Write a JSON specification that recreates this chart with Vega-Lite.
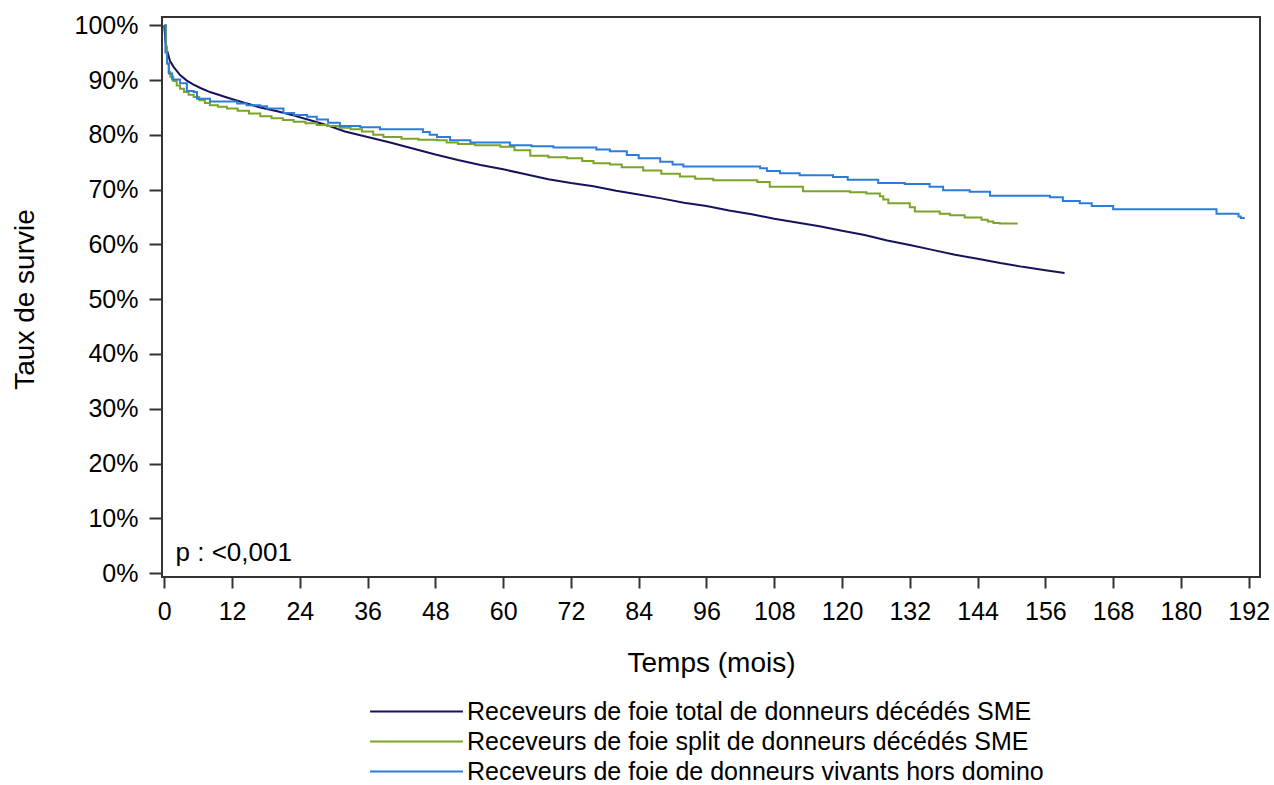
{
  "$schema": "https://vega.github.io/schema/vega-lite/v6.json",
  "autosize": "none",
  "width": 1098,
  "height": 560,
  "padding": {"left": 162, "top": 17, "right": 14, "bottom": 208},
  "background": "white",
  "config": {
    "view": {"stroke": "#333333", "strokeWidth": 2},
    "font": "Liberation Sans"
  },
  "datasets": {
    "km": [
      {"g": "Receveurs de foie total de donneurs décédés SME", "t": 0, "s": 1.0},
      {"g": "Receveurs de foie total de donneurs décédés SME", "t": 0.2, "s": 0.972},
      {"g": "Receveurs de foie total de donneurs décédés SME", "t": 0.5, "s": 0.954},
      {"g": "Receveurs de foie total de donneurs décédés SME", "t": 1, "s": 0.935},
      {"g": "Receveurs de foie total de donneurs décédés SME", "t": 1.65, "s": 0.924},
      {"g": "Receveurs de foie total de donneurs décédés SME", "t": 2.8, "s": 0.909},
      {"g": "Receveurs de foie total de donneurs décédés SME", "t": 4, "s": 0.899},
      {"g": "Receveurs de foie total de donneurs décédés SME", "t": 5.1, "s": 0.892},
      {"g": "Receveurs de foie total de donneurs décédés SME", "t": 6.5, "s": 0.885},
      {"g": "Receveurs de foie total de donneurs décédés SME", "t": 8.1, "s": 0.878},
      {"g": "Receveurs de foie total de donneurs décédés SME", "t": 11.1, "s": 0.868},
      {"g": "Receveurs de foie total de donneurs décédés SME", "t": 14, "s": 0.859},
      {"g": "Receveurs de foie total de donneurs décédés SME", "t": 17, "s": 0.850},
      {"g": "Receveurs de foie total de donneurs décédés SME", "t": 20, "s": 0.843},
      {"g": "Receveurs de foie total de donneurs décédés SME", "t": 23, "s": 0.835},
      {"g": "Receveurs de foie total de donneurs décédés SME", "t": 26, "s": 0.826},
      {"g": "Receveurs de foie total de donneurs décédés SME", "t": 29, "s": 0.817},
      {"g": "Receveurs de foie total de donneurs décédés SME", "t": 32, "s": 0.806},
      {"g": "Receveurs de foie total de donneurs décédés SME", "t": 36, "s": 0.796},
      {"g": "Receveurs de foie total de donneurs décédés SME", "t": 40, "s": 0.786},
      {"g": "Receveurs de foie total de donneurs décédés SME", "t": 44, "s": 0.775},
      {"g": "Receveurs de foie total de donneurs décédés SME", "t": 48, "s": 0.764},
      {"g": "Receveurs de foie total de donneurs décédés SME", "t": 52, "s": 0.754},
      {"g": "Receveurs de foie total de donneurs décédés SME", "t": 56, "s": 0.745},
      {"g": "Receveurs de foie total de donneurs décédés SME", "t": 60, "s": 0.737},
      {"g": "Receveurs de foie total de donneurs décédés SME", "t": 64, "s": 0.728},
      {"g": "Receveurs de foie total de donneurs décédés SME", "t": 68, "s": 0.719},
      {"g": "Receveurs de foie total de donneurs décédés SME", "t": 72, "s": 0.712},
      {"g": "Receveurs de foie total de donneurs décédés SME", "t": 76, "s": 0.706},
      {"g": "Receveurs de foie total de donneurs décédés SME", "t": 80, "s": 0.698},
      {"g": "Receveurs de foie total de donneurs décédés SME", "t": 84, "s": 0.691},
      {"g": "Receveurs de foie total de donneurs décédés SME", "t": 88, "s": 0.684},
      {"g": "Receveurs de foie total de donneurs décédés SME", "t": 92, "s": 0.676},
      {"g": "Receveurs de foie total de donneurs décédés SME", "t": 96, "s": 0.670},
      {"g": "Receveurs de foie total de donneurs décédés SME", "t": 100, "s": 0.662},
      {"g": "Receveurs de foie total de donneurs décédés SME", "t": 104, "s": 0.655},
      {"g": "Receveurs de foie total de donneurs décédés SME", "t": 108, "s": 0.647},
      {"g": "Receveurs de foie total de donneurs décédés SME", "t": 112, "s": 0.640},
      {"g": "Receveurs de foie total de donneurs décédés SME", "t": 116, "s": 0.633},
      {"g": "Receveurs de foie total de donneurs décédés SME", "t": 120, "s": 0.625},
      {"g": "Receveurs de foie total de donneurs décédés SME", "t": 124, "s": 0.617},
      {"g": "Receveurs de foie total de donneurs décédés SME", "t": 128, "s": 0.607},
      {"g": "Receveurs de foie total de donneurs décédés SME", "t": 132, "s": 0.599},
      {"g": "Receveurs de foie total de donneurs décédés SME", "t": 136, "s": 0.590},
      {"g": "Receveurs de foie total de donneurs décédés SME", "t": 140, "s": 0.581},
      {"g": "Receveurs de foie total de donneurs décédés SME", "t": 144, "s": 0.574},
      {"g": "Receveurs de foie total de donneurs décédés SME", "t": 148, "s": 0.566},
      {"g": "Receveurs de foie total de donneurs décédés SME", "t": 152, "s": 0.559},
      {"g": "Receveurs de foie total de donneurs décédés SME", "t": 156, "s": 0.553},
      {"g": "Receveurs de foie total de donneurs décédés SME", "t": 159.4, "s": 0.548},

      {"g": "Receveurs de foie split de donneurs décédés SME", "t": 0, "s": 1.0},
      {"g": "Receveurs de foie split de donneurs décédés SME", "t": 0.3, "s": 0.96},
      {"g": "Receveurs de foie split de donneurs décédés SME", "t": 0.5, "s": 0.93},
      {"g": "Receveurs de foie split de donneurs décédés SME", "t": 0.8, "s": 0.915},
      {"g": "Receveurs de foie split de donneurs décédés SME", "t": 1.06, "s": 0.906},
      {"g": "Receveurs de foie split de donneurs décédés SME", "t": 1.6, "s": 0.898},
      {"g": "Receveurs de foie split de donneurs décédés SME", "t": 2.2, "s": 0.89},
      {"g": "Receveurs de foie split de donneurs décédés SME", "t": 2.8, "s": 0.884},
      {"g": "Receveurs de foie split de donneurs décédés SME", "t": 3.5, "s": 0.878},
      {"g": "Receveurs de foie split de donneurs décédés SME", "t": 4.3, "s": 0.873},
      {"g": "Receveurs de foie split de donneurs décédés SME", "t": 5.2, "s": 0.869},
      {"g": "Receveurs de foie split de donneurs décédés SME", "t": 6.2, "s": 0.863},
      {"g": "Receveurs de foie split de donneurs décédés SME", "t": 7.2, "s": 0.858},
      {"g": "Receveurs de foie split de donneurs décédés SME", "t": 8.1, "s": 0.854},
      {"g": "Receveurs de foie split de donneurs décédés SME", "t": 9.5, "s": 0.851},
      {"g": "Receveurs de foie split de donneurs décédés SME", "t": 11.1, "s": 0.848},
      {"g": "Receveurs de foie split de donneurs décédés SME", "t": 13, "s": 0.844},
      {"g": "Receveurs de foie split de donneurs décédés SME", "t": 15, "s": 0.839},
      {"g": "Receveurs de foie split de donneurs décédés SME", "t": 17, "s": 0.834},
      {"g": "Receveurs de foie split de donneurs décédés SME", "t": 19, "s": 0.830},
      {"g": "Receveurs de foie split de donneurs décédés SME", "t": 21, "s": 0.827},
      {"g": "Receveurs de foie split de donneurs décédés SME", "t": 22.9, "s": 0.824},
      {"g": "Receveurs de foie split de donneurs décédés SME", "t": 25, "s": 0.821},
      {"g": "Receveurs de foie split de donneurs décédés SME", "t": 27, "s": 0.818},
      {"g": "Receveurs de foie split de donneurs décédés SME", "t": 28.8, "s": 0.816},
      {"g": "Receveurs de foie split de donneurs décédés SME", "t": 31, "s": 0.813},
      {"g": "Receveurs de foie split de donneurs décédés SME", "t": 33, "s": 0.810},
      {"g": "Receveurs de foie split de donneurs décédés SME", "t": 35, "s": 0.806},
      {"g": "Receveurs de foie split de donneurs décédés SME", "t": 37, "s": 0.800},
      {"g": "Receveurs de foie split de donneurs décédés SME", "t": 38.8, "s": 0.796},
      {"g": "Receveurs de foie split de donneurs décédés SME", "t": 42, "s": 0.793},
      {"g": "Receveurs de foie split de donneurs décédés SME", "t": 45, "s": 0.791},
      {"g": "Receveurs de foie split de donneurs décédés SME", "t": 48.3, "s": 0.790},
      {"g": "Receveurs de foie split de donneurs décédés SME", "t": 50, "s": 0.786},
      {"g": "Receveurs de foie split de donneurs décédés SME", "t": 52, "s": 0.783},
      {"g": "Receveurs de foie split de donneurs décédés SME", "t": 55, "s": 0.781},
      {"g": "Receveurs de foie split de donneurs décédés SME", "t": 59.5, "s": 0.778},
      {"g": "Receveurs de foie split de donneurs décédés SME", "t": 62, "s": 0.772},
      {"g": "Receveurs de foie split de donneurs décédés SME", "t": 64.8, "s": 0.762},
      {"g": "Receveurs de foie split de donneurs décédés SME", "t": 68, "s": 0.759},
      {"g": "Receveurs de foie split de donneurs décédés SME", "t": 71.3, "s": 0.757},
      {"g": "Receveurs de foie split de donneurs décédés SME", "t": 74, "s": 0.752},
      {"g": "Receveurs de foie split de donneurs décédés SME", "t": 76, "s": 0.748},
      {"g": "Receveurs de foie split de donneurs décédés SME", "t": 78.9, "s": 0.746},
      {"g": "Receveurs de foie split de donneurs décédés SME", "t": 81, "s": 0.741},
      {"g": "Receveurs de foie split de donneurs décédés SME", "t": 84.8, "s": 0.735},
      {"g": "Receveurs de foie split de donneurs décédés SME", "t": 88, "s": 0.729},
      {"g": "Receveurs de foie split de donneurs décédés SME", "t": 91.3, "s": 0.724},
      {"g": "Receveurs de foie split de donneurs décédés SME", "t": 94, "s": 0.720},
      {"g": "Receveurs de foie split de donneurs décédés SME", "t": 97.2, "s": 0.717},
      {"g": "Receveurs de foie split de donneurs décédés SME", "t": 105, "s": 0.714},
      {"g": "Receveurs de foie split de donneurs décédés SME", "t": 107.2, "s": 0.705},
      {"g": "Receveurs de foie split de donneurs décédés SME", "t": 113.1, "s": 0.697},
      {"g": "Receveurs de foie split de donneurs décédés SME", "t": 121.4, "s": 0.695},
      {"g": "Receveurs de foie split de donneurs décédés SME", "t": 124.3, "s": 0.693},
      {"g": "Receveurs de foie split de donneurs décédés SME", "t": 126.7, "s": 0.688},
      {"g": "Receveurs de foie split de donneurs décédés SME", "t": 127.3, "s": 0.682},
      {"g": "Receveurs de foie split de donneurs décédés SME", "t": 128.2, "s": 0.675},
      {"g": "Receveurs de foie split de donneurs décédés SME", "t": 132, "s": 0.668},
      {"g": "Receveurs de foie split de donneurs décédés SME", "t": 132.9, "s": 0.660},
      {"g": "Receveurs de foie split de donneurs décédés SME", "t": 137.3, "s": 0.656},
      {"g": "Receveurs de foie split de donneurs décédés SME", "t": 139.1, "s": 0.653},
      {"g": "Receveurs de foie split de donneurs décédés SME", "t": 141.7, "s": 0.649},
      {"g": "Receveurs de foie split de donneurs décédés SME", "t": 144.7, "s": 0.645},
      {"g": "Receveurs de foie split de donneurs décédés SME", "t": 145.8, "s": 0.642},
      {"g": "Receveurs de foie split de donneurs décédés SME", "t": 146.8, "s": 0.639},
      {"g": "Receveurs de foie split de donneurs décédés SME", "t": 147.9, "s": 0.638},
      {"g": "Receveurs de foie split de donneurs décédés SME", "t": 151.1, "s": 0.638},

      {"g": "Receveurs de foie de donneurs vivants hors domino", "t": 0, "s": 1.0},
      {"g": "Receveurs de foie de donneurs vivants hors domino", "t": 0.2, "s": 0.95},
      {"g": "Receveurs de foie de donneurs vivants hors domino", "t": 0.5, "s": 0.93},
      {"g": "Receveurs de foie de donneurs vivants hors domino", "t": 0.8, "s": 0.912},
      {"g": "Receveurs de foie de donneurs vivants hors domino", "t": 1.4, "s": 0.901},
      {"g": "Receveurs de foie de donneurs vivants hors domino", "t": 2.8, "s": 0.894},
      {"g": "Receveurs de foie de donneurs vivants hors domino", "t": 4, "s": 0.880},
      {"g": "Receveurs de foie de donneurs vivants hors domino", "t": 5.2, "s": 0.878},
      {"g": "Receveurs de foie de donneurs vivants hors domino", "t": 5.8, "s": 0.866},
      {"g": "Receveurs de foie de donneurs vivants hors domino", "t": 8.1, "s": 0.861},
      {"g": "Receveurs de foie de donneurs vivants hors domino", "t": 12.9, "s": 0.857},
      {"g": "Receveurs de foie de donneurs vivants hors domino", "t": 14.6, "s": 0.854},
      {"g": "Receveurs de foie de donneurs vivants hors domino", "t": 17, "s": 0.852},
      {"g": "Receveurs de foie de donneurs vivants hors domino", "t": 18.2, "s": 0.848},
      {"g": "Receveurs de foie de donneurs vivants hors domino", "t": 21.1, "s": 0.840},
      {"g": "Receveurs de foie de donneurs vivants hors domino", "t": 23, "s": 0.836},
      {"g": "Receveurs de foie de donneurs vivants hors domino", "t": 25.3, "s": 0.833},
      {"g": "Receveurs de foie de donneurs vivants hors domino", "t": 27, "s": 0.828},
      {"g": "Receveurs de foie de donneurs vivants hors domino", "t": 29, "s": 0.822},
      {"g": "Receveurs de foie de donneurs vivants hors domino", "t": 31.1, "s": 0.816},
      {"g": "Receveurs de foie de donneurs vivants hors domino", "t": 34.7, "s": 0.814},
      {"g": "Receveurs de foie de donneurs vivants hors domino", "t": 38.2, "s": 0.810},
      {"g": "Receveurs de foie de donneurs vivants hors domino", "t": 45.8, "s": 0.805},
      {"g": "Receveurs de foie de donneurs vivants hors domino", "t": 47, "s": 0.800},
      {"g": "Receveurs de foie de donneurs vivants hors domino", "t": 48.3, "s": 0.796},
      {"g": "Receveurs de foie de donneurs vivants hors domino", "t": 50.6, "s": 0.790},
      {"g": "Receveurs de foie de donneurs vivants hors domino", "t": 54.2, "s": 0.786},
      {"g": "Receveurs de foie de donneurs vivants hors domino", "t": 61.2, "s": 0.781},
      {"g": "Receveurs de foie de donneurs vivants hors domino", "t": 65, "s": 0.779},
      {"g": "Receveurs de foie de donneurs vivants hors domino", "t": 68.9, "s": 0.777},
      {"g": "Receveurs de foie de donneurs vivants hors domino", "t": 76.5, "s": 0.773},
      {"g": "Receveurs de foie de donneurs vivants hors domino", "t": 78.9, "s": 0.770},
      {"g": "Receveurs de foie de donneurs vivants hors domino", "t": 81.9, "s": 0.763},
      {"g": "Receveurs de foie de donneurs vivants hors domino", "t": 84, "s": 0.757},
      {"g": "Receveurs de foie de donneurs vivants hors domino", "t": 87.8, "s": 0.751},
      {"g": "Receveurs de foie de donneurs vivants hors domino", "t": 90, "s": 0.746},
      {"g": "Receveurs de foie de donneurs vivants hors domino", "t": 91.9, "s": 0.742},
      {"g": "Receveurs de foie de donneurs vivants hors domino", "t": 105.5, "s": 0.739},
      {"g": "Receveurs de foie de donneurs vivants hors domino", "t": 106.7, "s": 0.734},
      {"g": "Receveurs de foie de donneurs vivants hors domino", "t": 109, "s": 0.730},
      {"g": "Receveurs de foie de donneurs vivants hors domino", "t": 112.5, "s": 0.726},
      {"g": "Receveurs de foie de donneurs vivants hors domino", "t": 118.4, "s": 0.723},
      {"g": "Receveurs de foie de donneurs vivants hors domino", "t": 121, "s": 0.718},
      {"g": "Receveurs de foie de donneurs vivants hors domino", "t": 126.4, "s": 0.712},
      {"g": "Receveurs de foie de donneurs vivants hors domino", "t": 131.1, "s": 0.710},
      {"g": "Receveurs de foie de donneurs vivants hors domino", "t": 135.5, "s": 0.705},
      {"g": "Receveurs de foie de donneurs vivants hors domino", "t": 137.9, "s": 0.699},
      {"g": "Receveurs de foie de donneurs vivants hors domino", "t": 142.6, "s": 0.696},
      {"g": "Receveurs de foie de donneurs vivants hors domino", "t": 146.2, "s": 0.689},
      {"g": "Receveurs de foie de donneurs vivants hors domino", "t": 156.8, "s": 0.686},
      {"g": "Receveurs de foie de donneurs vivants hors domino", "t": 159.1, "s": 0.679},
      {"g": "Receveurs de foie de donneurs vivants hors domino", "t": 162.1, "s": 0.675},
      {"g": "Receveurs de foie de donneurs vivants hors domino", "t": 164.2, "s": 0.670},
      {"g": "Receveurs de foie de donneurs vivants hors domino", "t": 168, "s": 0.664},
      {"g": "Receveurs de foie de donneurs vivants hors domino", "t": 186.3, "s": 0.656},
      {"g": "Receveurs de foie de donneurs vivants hors domino", "t": 190.2, "s": 0.651},
      {"g": "Receveurs de foie de donneurs vivants hors domino", "t": 190.6, "s": 0.648},
      {"g": "Receveurs de foie de donneurs vivants hors domino", "t": 191.3, "s": 0.648}
    ],
    "ptext": [{"t": 2, "s": 0.036, "label": "p : <0,001"}]
  },
  "layer": [
    {
      "data": {"name": "km"},
      "transform": [{"filter": "datum.g === 'Receveurs de foie total de donneurs décédés SME'"}],
      "mark": {"type": "line", "strokeWidth": 2, "interpolate": "linear"},
      "encoding": {
        "x": {"field": "t", "type": "quantitative"},
        "y": {"field": "s", "type": "quantitative"},
        "color": {"field": "g", "type": "nominal"}
      }
    },
    {
      "data": {"name": "km"},
      "transform": [{"filter": "datum.g !== 'Receveurs de foie total de donneurs décédés SME'"}],
      "mark": {"type": "line", "strokeWidth": 2, "interpolate": "step-after"},
      "encoding": {
        "x": {"field": "t", "type": "quantitative",
          "scale": {"domain": [-0.4, 194], "nice": false, "zero": false},
          "axis": {
            "title": "Temps (mois)",
            "values": [0, 12, 24, 36, 48, 60, 72, 84, 96, 108, 120, 132, 144, 156, 168, 180, 192],
            "domain": false, "grid": false,
            "tickSize": 11, "tickColor": "#333333", "tickWidth": 2,
            "labelFontSize": 25, "labelColor": "#000000", "labelPadding": 11, "labelFont": "Liberation Sans",
            "titleFontSize": 28, "titleFont": "Liberation Sans", "titleFontWeight": "normal", "titleColor": "#000000",
            "titleX": 549, "titleY": 86, "titleBaseline": "middle"
          }
        },
        "y": {"field": "s", "type": "quantitative",
          "scale": {"domain": [-0.007, 1.015], "nice": false, "zero": false},
          "axis": {
            "title": "Taux de survie",
            "values": [0, 0.1, 0.2, 0.3, 0.4, 0.5, 0.6, 0.7, 0.8, 0.9, 1.0],
            "format": ".0%",
            "domain": false, "grid": false,
            "tickSize": 13, "tickColor": "#333333", "tickWidth": 2,
            "labelFontSize": 25, "labelColor": "#000000", "labelPadding": 11, "labelFont": "Liberation Sans",
            "titleFontSize": 28, "titleFont": "Liberation Sans", "titleFontWeight": "normal", "titleColor": "#000000",
            "titleX": -137, "titleY": 282, "titleAngle": -90, "titleBaseline": "middle", "titleAlign": "center"
          }
        },
        "color": {"field": "g", "type": "nominal",
          "scale": {
            "domain": ["Receveurs de foie total de donneurs décédés SME", "Receveurs de foie split de donneurs décédés SME", "Receveurs de foie de donneurs vivants hors domino"],
            "range": ["#15135c", "#7ba428", "#2b7ddb"]
          },
          "legend": {
            "title": null, "orient": "none", "legendX": 242, "legendY": 682,
            "symbolType": "M-5,0H5", "symbolSize": 345, "symbolStrokeWidth": 2,
            "labelFontSize": 25, "labelFont": "Liberation Sans", "labelColor": "#000000",
            "labelOffset": 38, "rowPadding": 4, "labelLimit": 800
          }
        }
      }
    },
    {
      "data": {"name": "ptext"},
      "mark": {"type": "text", "align": "left", "baseline": "middle", "fontSize": 26, "font": "Liberation Sans", "color": "#000000"},
      "encoding": {
        "x": {"field": "t", "type": "quantitative"},
        "y": {"field": "s", "type": "quantitative"},
        "text": {"field": "label"}
      }
    }
  ]
}
